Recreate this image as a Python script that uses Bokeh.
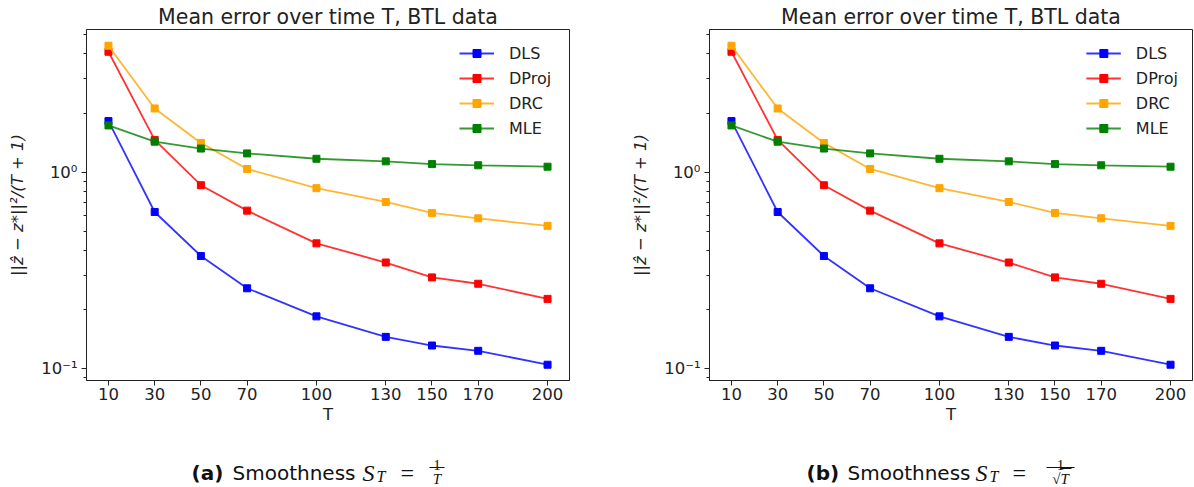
from bokeh.plotting import figure
from bokeh.layouts import row, column
from bokeh.models import FixedTicker, CustomJSTickFormatter, Range1d
from bokeh.embed import file_html
from bokeh.resources import INLINE
from bokeh.core.properties import value

# ---------------- data ----------------
T_VALUES = [10, 30, 50, 70, 100, 130, 150, 170, 200]
DLS = [1.82, 0.628, 0.375, 0.257, 0.185, 0.1455, 0.1315, 0.1236, 0.105]
DPROJ = [4.10, 1.46, 0.859, 0.638, 0.435, 0.3475, 0.292, 0.271, 0.227]
DRC = [4.40, 2.11, 1.41, 1.039, 0.830, 0.706, 0.621, 0.583, 0.534]
MLE = [1.73, 1.43, 1.32, 1.247, 1.171, 1.136, 1.10, 1.085, 1.067]

SERIES_NAMES = ["DLS", "DProj", "DRC", "MLE"]
SERIES_VALUES = [DLS, DPROJ, DRC, MLE]
SERIES_COLORS = ["#0000ff", "#ff0000", "#ffa500", "#008000"]

Y_MAJOR = [0.1, 1.0]
Y_MINOR = [0.09, 0.2, 0.3, 0.4, 0.5, 0.6, 0.7, 0.8, 0.9, 2, 3, 4, 5]

TITLE = "Mean error over time T, BTL data"
X_LABEL = "T"
Y_LABEL = "||z\u0302 \u2212 z*||\u00b2/(T + 1)"

FRAME_W = 483
FRAME_H = 354
PLOT_H = 450
CAP_H = 37
INK = "#222222"


def build(width, bl, br, bt, label_w):
    p = figure(width=width, height=PLOT_H,
               x_range=Range1d(0.5, 209.5), y_range=Range1d(0.0873, 5.32),
               y_axis_type="log", output_backend="svg", toolbar_location=None,
               min_border_left=bl, min_border_right=br, min_border_top=bt,
               min_border_bottom=PLOT_H - bt - FRAME_H)
    p.grid.visible = False
    p.outline_line_color = INK
    p.outline_line_width = 1
    p.background_fill_color = "white"
    p.border_fill_color = "white"

    p.title.text = TITLE
    p.title.align = "center"
    p.title.text_font = "DejaVu Sans"
    p.title.text_font_size = "20.5px"
    p.title.text_font_style = "normal"
    p.title.text_color = INK
    p.title.standoff = 2

    for name, vals, col in zip(SERIES_NAMES, SERIES_VALUES, SERIES_COLORS):
        p.line(T_VALUES, vals, line_color=col, line_width=1.8, line_alpha=0.8,
               legend_label=name)
        p.scatter(T_VALUES, vals, marker="square", size=7, fill_color=col,
                  line_color=col, legend_label=name)

    # axes
    p.xaxis.ticker = FixedTicker(ticks=T_VALUES, minor_ticks=[])
    p.yaxis.ticker = FixedTicker(ticks=Y_MAJOR, minor_ticks=Y_MINOR)
    p.yaxis.formatter = CustomJSTickFormatter(
        code="return tick < 0.5 ? '10\u207b\u00b9' : '10\u2070';")
    for ax in (p.xaxis[0], p.yaxis[0]):
        ax.axis_line_color = INK
        ax.major_tick_line_color = INK
        ax.minor_tick_line_color = INK
        ax.major_tick_in = 0
        ax.major_tick_out = 5
        ax.minor_tick_in = 0
        ax.minor_tick_out = 3
        ax.major_label_text_font = "DejaVu Sans"
        ax.major_label_text_font_size = "16.5px"
        ax.major_label_text_color = INK
        ax.axis_label_text_font = "DejaVu Sans"
        ax.axis_label_text_font_size = "16.5px"
        ax.axis_label_text_font_style = "normal"
        ax.axis_label_text_color = INK
    p.xaxis.axis_label = X_LABEL
    p.xaxis.major_label_standoff = 2
    p.xaxis.axis_label_standoff = 2
    p.yaxis.axis_label = Y_LABEL
    p.yaxis.axis_label_text_font_style = "italic"
    p.yaxis.major_label_standoff = 4
    p.yaxis.axis_label_standoff = 11

    # legend
    lg = p.legend[0]
    lg.location = "top_right"
    lg.border_line_color = None
    lg.background_fill_alpha = 0
    lg.margin = 14
    lg.padding = 8
    lg.spacing = 5
    lg.glyph_width = 35
    lg.glyph_height = 20
    lg.label_height = 20
    lg.label_width = label_w
    lg.label_standoff = 15
    lg.label_text_font = "DejaVu Sans"
    lg.label_text_font_size = "16px"
    lg.label_text_color = INK
    return p


p1 = build(628, 86, 59, 29, 46)
p2 = build(566, 81, 2, 26, 40)

# ---------------- captions (sub-figure labels) ----------------
cap = figure(width=1194, height=CAP_H, x_range=Range1d(0, 1194),
             y_range=Range1d(487, 450), output_backend="svg", toolbar_location=None,
             min_border=0, x_axis_location=None, y_axis_location=None)
cap.grid.visible = False
cap.outline_line_color = None
cap.background_fill_color = "white"
cap.border_fill_color = "white"

CAPTION_PARTS = [
    # text, font, style, size, x, baseline y, align
    ("(a)", "DejaVu Sans", "bold", "20px", 191, 472, "left"),
    ("Smoothness", "DejaVu Sans", "normal", "20px", 232, 472, "left"),
    ("S", "Liberation Serif", "italic", "24px", 362, 472, "left"),
    ("T", "Liberation Serif", "italic", "16px", 376, 476, "left"),
    ("=", "Liberation Serif", "normal", "24px", 400, 472, "left"),
    ("1", "Liberation Serif", "normal", "15px", 436.5, 464, "center"),
    ("T", "Liberation Serif", "italic", "15px", 436.5, 478.5, "center"),
    ("(b)", "DejaVu Sans", "bold", "20px", 806, 472, "left"),
    ("Smoothness", "DejaVu Sans", "normal", "20px", 847, 472, "left"),
    ("S", "Liberation Serif", "italic", "24px", 975, 472, "left"),
    ("T", "Liberation Serif", "italic", "16px", 989, 476, "left"),
    ("=", "Liberation Serif", "normal", "24px", 1012, 472, "left"),
    ("1", "Liberation Serif", "normal", "15px", 1060, 464, "center"),
    ("\u221aT", "Liberation Serif", "italic", "15px", 1060, 478.5, "center"),
]
for txt, font, style, size, xx, yy, al in CAPTION_PARTS:
    cap.text(x=[xx], y=[yy], text=[txt], text_font=value(font),
             text_font_style=style, text_font_size=size, text_align=al,
             text_baseline="alphabetic", text_color="#111111")
# fraction bars and the radical's overline
cap.segment(x0=[429, 1046, 1060], y0=[467, 467, 468],
            x1=[444, 1074, 1071], y1=[467, 467, 468],
            line_color="#111111", line_width=1)

layout = column(row(p1, p2), cap)
open("out.html", "w").write(file_html(layout, INLINE))
